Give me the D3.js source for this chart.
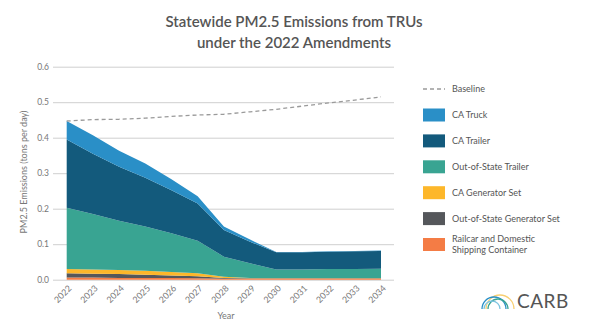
<!DOCTYPE html>
<html>
<head>
<meta charset="utf-8">
<script src="https://cdn.jsdelivr.net/npm/d3@7"></script>
<style>
  body { margin: 0; background: #fff; }
  text { font-family: Lato, "Open Sans", sans-serif; }
</style>
</head>
<body>
<div id="chart"></div>
<script>
var years = [2022, 2023, 2024, 2025, 2026, 2027, 2028, 2029, 2030, 2031, 2032, 2033, 2034];
var railcar      = [0.006, 0.006, 0.005, 0.005, 0.005, 0.004, 0.003, 0.003, 0.003, 0.003, 0.003, 0.003, 0.003];
var oosGenSet    = [0.012, 0.011, 0.011, 0.009, 0.007, 0.006, 0.002, 0.001, 0.001, 0.001, 0.001, 0.001, 0.001];
var caGenSet     = [0.012, 0.012, 0.011, 0.011, 0.010, 0.008, 0.003, 0.001, 0.001, 0.001, 0.001, 0.001, 0.001];
var oosTrailer   = [0.173, 0.156, 0.139, 0.125, 0.109, 0.092, 0.057, 0.041, 0.024, 0.024, 0.025, 0.025, 0.026];
var caTrailer    = [0.192, 0.170, 0.152, 0.137, 0.121, 0.105, 0.075, 0.061, 0.048, 0.048, 0.049, 0.050, 0.050];
var caTruck      = [0.052, 0.052, 0.045, 0.040, 0.031, 0.020, 0.010, 0.006, 0.001, 0.001, 0.001, 0.001, 0.001];
var baseline     = [0.447, 0.451, 0.452, 0.455, 0.460, 0.464, 0.466, 0.473, 0.480, 0.489, 0.498, 0.506, 0.515];
var yTicks = [0, 0.1, 0.2, 0.3, 0.4, 0.5, 0.6];

// bottom to top
var seriesKeys = ["rail", "oosGen", "caGen", "oosTrailer", "caTrailer", "caTruck"];
var seriesNames = {
  caTruck: "CA Truck", caTrailer: "CA Trailer", oosTrailer: "Out-of-State Trailer",
  caGen: "CA Generator Set", oosGen: "Out-of-State Generator Set",
  rail: "Railcar and Domestic|Shipping Container"
};
var colors = {
  caTruck: "#2a8fc7", caTrailer: "#135a7c", oosTrailer: "#39a492",
  caGen: "#fdb72a", oosGen: "#55575b", rail: "#f47c45"
};

var table = years.map(function (y, i) {
  return { year: y, rail: railcar[i], oosGen: oosGenSet[i], caGen: caGenSet[i],
    oosTrailer: oosTrailer[i], caTrailer: caTrailer[i], caTruck: caTruck[i] };
});

var W = 590, H = 332;
var svg = d3.select("#chart").append("svg")
  .attr("width", W).attr("height", H);

var x = d3.scaleLinear().domain([2022, 2034]).range([66.7, 381]);
var y = d3.scaleLinear().domain([0, 0.6]).range([279.7, 66.7]);

// title
svg.append("text").attr("x", 294).attr("y", 27)
  .attr("text-anchor", "middle").attr("font-size", 15).attr("font-weight", 600)
  .attr("fill", "#555").text("Statewide PM2.5 Emissions from TRUs");
svg.append("text").attr("x", 294).attr("y", 48)
  .attr("text-anchor", "middle").attr("font-size", 15).attr("font-weight", 600)
  .attr("fill", "#555").text("under the 2022 Amendments");

// grid
var yAxis = d3.axisLeft(y).tickValues(yTicks).tickFormat(d3.format(".1f"))
  .tickSize(-(394 - 53)).tickPadding(4);
var gy = svg.append("g").attr("transform", "translate(53,0)").call(yAxis);
gy.select(".domain").remove();
gy.selectAll(".tick line").attr("stroke", "#cfcfcf").attr("stroke-width", 1);
gy.selectAll(".tick text").attr("fill", "#777").attr("font-size", 8.5)
  .attr("font-family", "Lato, sans-serif");

// stacked areas
var stack = d3.stack().keys(seriesKeys);
var layers = stack(table);
var area = d3.area()
  .x(function (d) { return x(d.data.year); })
  .y0(function (d) { return y(d[0]); })
  .y1(function (d) { return y(d[1]); });

svg.selectAll(".layer").data(layers).enter().append("path")
  .attr("class", "layer")
  .attr("fill", function (d) { return colors[d.key]; })
  .attr("d", area);

// baseline
var line = d3.line()
  .x(function (d, i) { return x(years[i]); })
  .y(function (d) { return y(d); });
svg.append("path").datum(baseline)
  .attr("fill", "none").attr("stroke", "#9a9a9a").attr("stroke-width", 1.3)
  .attr("stroke-dasharray", "4,3").attr("d", line);

// x axis labels
var xAxis = d3.axisBottom(x).tickValues(years).tickFormat(d3.format("d")).tickSize(0);
var gx = svg.append("g").attr("transform", "translate(0,280)").call(xAxis);
gx.select(".domain").remove();
gx.selectAll(".tick text")
  .attr("fill", "#777").attr("font-size", 8.8).attr("font-family", "Lato, sans-serif")
  .style("text-anchor", "end")
  .attr("dy", 0).attr("y", 0)
  .attr("transform", "translate(5,9) rotate(-45)");

svg.append("text").attr("x", 226).attr("y", 319).attr("text-anchor", "middle")
  .attr("font-size", 9).attr("fill", "#777").text("Year");

svg.append("text")
  .attr("transform", "translate(27,172) rotate(-90)")
  .attr("text-anchor", "middle").attr("font-size", 9).attr("fill", "#777")
  .text("PM2.5 Emissions (tons per day)");

// legend
var lg = svg.append("g");
lg.append("line").attr("x1", 423).attr("x2", 445).attr("y1", 89).attr("y2", 89)
  .attr("stroke", "#9a9a9a").attr("stroke-width", 1.3).attr("stroke-dasharray", "4,3");
lg.append("text").attr("x", 452).attr("y", 92).attr("font-size", 9)
  .attr("fill", "#555").text("Baseline");

var legendKeys = ["caTruck", "caTrailer", "oosTrailer", "caGen", "oosGen", "rail"];
legendKeys.forEach(function (k, i) {
  var cy = 115 + i * 25.9;
  lg.append("rect").attr("x", 423).attr("y", cy - 6.5).attr("width", 22).attr("height", 13)
    .attr("fill", colors[k]);
  var parts = seriesNames[k].split("|");
  parts.forEach(function (p, j) {
    lg.append("text").attr("x", 452)
      .attr("y", cy + 3 + (j - (parts.length - 1) / 2) * 10.5)
      .attr("font-size", 9).attr("fill", "#555").text(p);
  });
});

// CARB logo
var logo = svg.append("g").attr("transform", "translate(486,309)");
var arcs = [
  { r: 14, cx: 14, c: "#f8cf72" },
  { r: 12, cx: 8, c: "#2a8fc7" },
  { r: 10, cx: 12, c: "#39a492" },
  { r: 8, cx: 6, c: "#7cc3e0" }
];
arcs.forEach(function (a) {
  logo.append("path")
    .attr("d", "M" + (a.cx - a.r) + ",0 A" + a.r + "," + a.r + " 0 0 1 " + (a.cx + a.r) + ",0")
    .attr("fill", "none").attr("stroke", a.c).attr("stroke-width", 1.3);
});
svg.append("text").attr("x", 517).attr("y", 308).attr("font-size", 19)
  .attr("fill", "#555").attr("letter-spacing", 0.5).text("CARB");
</script>
</body>
</html>
